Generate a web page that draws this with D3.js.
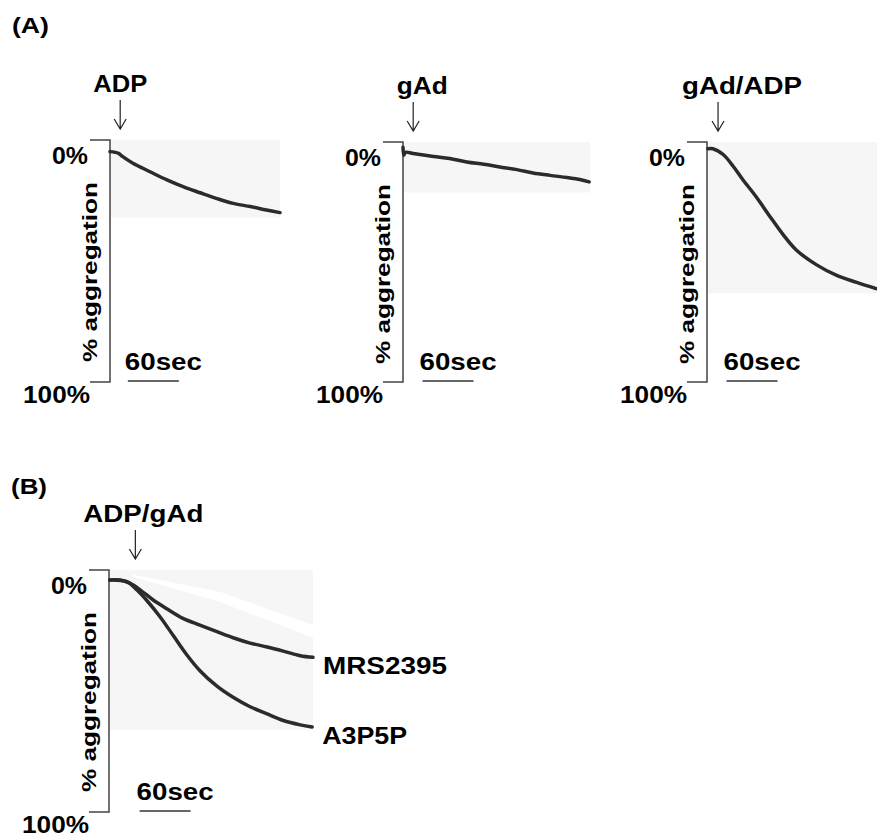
<!DOCTYPE html>
<html lang="en">
<head>
    <meta charset="UTF-8">
    <title>Aggregation traces</title>
    <script src="https://cdnjs.cloudflare.com/ajax/libs/d3/7.8.5/d3.min.js"></script>
    <style>
        body {
            margin: 0;
            background: #fff;
        }

        svg text {
            font-family: Arial, "Liberation Sans", sans-serif;
            font-weight: bold;
            fill: #000;
        }
    </style>
</head>
<body>
<svg id="chart" width="877" height="839"></svg>

<script>
    // time (s) from start of recording, aggregation (%)
    let adpTime = [0, 10, 15, 27, 47, 67, 86, 106, 125, 145, 165, 184, 200];
    let adpAgg = [4.8, 5.5, 6.9, 9.6, 13.1, 16.5, 19.3, 21.8, 24.1, 26.2, 27.5, 28.9, 30.0];

    let gadTime = [0, 1, 3, 12, 36, 55, 75, 95, 114, 134, 153, 173, 193, 208, 219];
    let gadAgg = [2.2, 5.5, 4.3, 4.8, 6.0, 6.9, 8.3, 9.3, 10.4, 11.5, 12.9, 13.9, 14.8, 15.6, 16.6];

    let gadAdpTime = [1, 7, 19, 31, 42, 58, 74, 90, 105, 129, 152, 176, 199];
    let gadAdpAgg = [2.8, 2.8, 5.2, 10.2, 15.6, 22.9, 31.0, 38.8, 45.0, 51.2, 55.5, 58.5, 61.1];

    let mrsTime = [1, 13, 25, 37, 52, 68, 87, 107, 127, 146, 166, 186, 205, 225, 240];
    let mrsAgg = [4.1, 4.1, 5.5, 8.3, 12.4, 16.0, 20.0, 22.8, 25.5, 28.0, 30.2, 31.8, 33.5, 35.4, 36.1];

    let a3p5pTime = [1, 21, 33, 44, 60, 76, 91, 107, 127, 146, 166, 186, 205, 225, 239];
    let a3p5pAgg = [4.1, 4.8, 8.3, 12.4, 19.3, 27.3, 34.8, 41.6, 48.0, 52.6, 56.5, 59.5, 62.2, 64.0, 64.9];

    // panel labels
    let agonists = ["ADP", "gAd", "gAd/ADP", "ADP/gAd"];
    let inhibitors = ["MRS2395", "A3P5P"];
    let yTicks = ["0%", "100%"];
    let yTitle = "% aggregation";
    let scaleLabel = "60sec";

    // agonist addition (s), scale bar start (s), recorded paper (s, %)
    let addTime = [12, 12, 13, 31];
    let barStart = [21, 23, 23, 36];
    let paperEnd = [200, 220, 200, 240];
    let paperDepth = [32, 21, 63, 66];
    // light stripe across the paper in (B): [s, %]
    let stripe = [[28, 2.0], [130, 9.0], [240, 22.8], [240, 28.0], [130, 13.1], [28, 2.8]];

    let svg = d3.select("#chart");
    let pxPerSec = 0.85;

    let panels = [
        {x0: 110, top: 140, bottom: 382, titleDx: 0, titleW: 54, traces: [[adpTime, adpAgg]]},
        {x0: 403, top: 142, bottom: 382, titleDx: 9, titleW: 51, traces: [[gadTime, gadAgg]]},
        {x0: 707, top: 142, bottom: 382, titleDx: 24, titleW: 120, traces: [[gadAdpTime, gadAdpAgg]]},
        {x0: 109, top: 570, bottom: 812, titleDx: 8, titleW: 120, traces: [[mrsTime, mrsAgg], [a3p5pTime, a3p5pAgg]]}
    ];

    svg.append("text").attr("x", 12).attr("y", 33).style("font-size", "22px")
        .attr("textLength", 37).attr("lengthAdjust", "spacingAndGlyphs").text("(A)");
    svg.append("text").attr("x", 11).attr("y", 494).style("font-size", "22px")
        .attr("textLength", 36).attr("lengthAdjust", "spacingAndGlyphs").text("(B)");

    panels.forEach(function (p, i) {
        let x = d3.scaleLinear().domain([0, 100]).range([p.x0, p.x0 + 100 * pxPerSec]);
        let y = d3.scaleLinear().domain([0, 100]).range([p.top, p.bottom]);
        let g = svg.append("g");

        // paper background
        g.append("rect")
            .attr("x", x(0)).attr("y", y(0))
            .attr("width", x(paperEnd[i]) - x(0))
            .attr("height", y(paperDepth[i]) - y(0))
            .attr("fill", "#f6f6f6");

        if (i === 3) {
            g.append("path")
                .attr("d", d3.line().x(d => x(d[0])).y(d => y(d[1]))(stripe) + "Z")
                .attr("fill", "#fff");
        }

        // bracket axis
        g.append("path")
            .attr("d", d3.line()([[p.x0 - 20, y(0)], [p.x0, y(0)], [p.x0, y(100)], [p.x0 - 20, y(100)]]))
            .attr("fill", "none")
            .attr("stroke", "#444")
            .attr("stroke-width", 1.5);

        g.append("text").attr("x", p.x0 - 22).attr("y", y(0) + 24)
            .attr("text-anchor", "end").style("font-size", "23px")
            .attr("textLength", 36).attr("lengthAdjust", "spacingAndGlyphs")
            .text(yTicks[0]);
        g.append("text").attr("x", p.x0 - 20).attr("y", y(100) + 21)
            .attr("text-anchor", "end").style("font-size", "23px")
            .attr("textLength", 67).attr("lengthAdjust", "spacingAndGlyphs")
            .text(yTicks[1]);

        g.append("text")
            .attr("transform", "translate(" + (p.x0 - 13) + "," + (p.top + 132) + ") rotate(-90)")
            .attr("text-anchor", "middle").style("font-size", "21px")
            .attr("textLength", 180).attr("lengthAdjust", "spacingAndGlyphs")
            .text(yTitle);

        // scale bar
        g.append("line")
            .attr("x1", x(barStart[i])).attr("x2", x(barStart[i] + 60))
            .attr("y1", y(100) - 1).attr("y2", y(100) - 1)
            .attr("stroke", "#333").attr("stroke-width", 1.3);
        g.append("text").attr("x", x(barStart[i]) - 3).attr("y", y(100) - 12)
            .style("font-size", "23px")
            .attr("textLength", 77).attr("lengthAdjust", "spacingAndGlyphs")
            .text(scaleLabel);

        // agonist arrow
        let ax = x(addTime[i]);
        g.append("path")
            .attr("d", d3.line()([[ax, p.top - 40], [ax, p.top - 11]]) +
                d3.line()([[ax - 6, p.top - 21], [ax, p.top - 11], [ax + 6, p.top - 21]]))
            .attr("fill", "none")
            .attr("stroke", "#222")
            .attr("stroke-width", 1.2);
        g.append("text").attr("x", ax + p.titleDx).attr("y", p.top - 48)
            .attr("text-anchor", "middle").style("font-size", "23px")
            .attr("textLength", p.titleW).attr("lengthAdjust", "spacingAndGlyphs")
            .text(agonists[i]);

        // traces
        let line = d3.line().x(d => x(d[0])).y(d => y(d[1])).curve(d3.curveCatmullRom.alpha(0.5));
        p.traces.forEach(function (tr, k) {
            let pts = tr[0].map((t, j) => [t, tr[1][j]]);
            g.append("path")
                .attr("d", line(pts))
                .attr("fill", "none")
                .attr("stroke", "#2b2b2b")
                .attr("stroke-width", 3.5)
                .attr("stroke-linejoin", "round")
                .attr("stroke-linecap", "round");

            if (i === 3) {
                let last = pts[pts.length - 1];
                g.append("text")
                    .attr("x", x(last[0]) + 10).attr("y", y(last[1]) + 17)
                    .style("font-size", "23px")
                    .attr("textLength", k === 0 ? 124 : 85).attr("lengthAdjust", "spacingAndGlyphs")
                    .text(inhibitors[k]);
            }
        });
    });
</script>
</body>
</html>
